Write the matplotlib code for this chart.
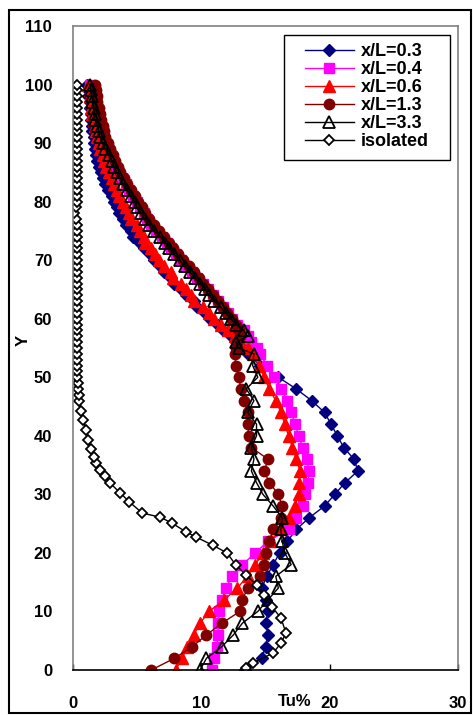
import matplotlib
matplotlib.use("Agg")
import matplotlib.pyplot as plt

plt.rcParams['font.family'] = ['Liberation Sans', 'DejaVu Sans']
plt.rcParams['font.weight'] = 'bold'

# Height positions (Y) shared by the five downstream profiles
y_prof = [0, 2, 4, 6, 8, 10, 12, 14, 16, 18, 20, 22, 24, 26, 28, 30, 32, 34, 36, 38,
          40, 42, 44, 46, 48, 50, 52, 54,
          55, 56, 57, 58, 59, 60, 61, 62, 63, 64, 65, 66, 67, 68, 69, 70, 71, 72, 73, 74,
          75, 76, 77, 78, 79, 80, 81, 82, 83, 84, 85, 86, 87, 88, 89, 90, 91, 92, 93, 94,
          95, 96, 97, 98, 99, 100]

tu_03 = [13.4, 14.7, 15.0, 15.2, 15.0, 15.2, 15.0, 14.7, 15.1, 15.6, 16.1, 16.7, 17.4, 18.4,
         19.6, 20.4, 21.2, 22.2, 21.9, 21.1, 20.6, 20.1, 19.6, 18.6, 17.4, 16.0, 14.6, 13.6,
         13.1, 12.7, 12.3, 11.7, 11.3, 10.7, 10.3, 9.7, 9.4, 8.8, 8.4, 7.9, 7.6, 7.1, 6.8, 6.3,
         6.0, 5.5, 5.2, 4.7, 4.5, 4.1, 3.9, 3.6, 3.4, 3.2, 3.0, 2.7, 2.5, 2.3, 2.2, 2.0, 1.9,
         1.8, 1.7, 1.6, 1.6, 1.5, 1.5, 1.4, 1.4, 1.3, 1.3, 1.2, 1.2, 1.1]

tu_04 = [10.8, 11.0, 11.2, 11.3, 11.3, 11.4, 11.6, 11.9, 12.4, 13.2, 14.2, 15.2, 16.8, 17.4,
         17.9, 18.1, 18.3, 18.4, 18.2, 17.9, 17.6, 17.3, 17.0, 16.7, 16.2, 15.7, 15.1, 14.6,
         14.3, 13.9, 13.6, 13.3, 12.8, 12.4, 12.1, 11.7, 11.3, 10.9, 10.5, 10.1, 9.7, 9.3, 8.8,
         8.4, 8.0, 7.6, 7.3, 6.9, 6.5, 6.1, 5.8, 5.5, 5.2, 5.0, 4.7, 4.4, 4.1, 3.8, 3.5, 3.3,
         3.1, 2.9, 2.7, 2.5, 2.3, 2.1, 2.0, 1.9, 1.8, 1.7, 1.6, 1.5, 1.4, 1.3]

tu_06 = [8.0, 8.5, 8.9, 9.4, 9.9, 10.6, 11.8, 12.8, 13.6, 14.2, 14.8, 15.4, 16.2, 16.8,
         17.3, 17.6, 17.6, 17.7, 17.4, 17.1, 16.8, 16.5, 16.2, 15.8, 15.3, 14.9, 14.5, 14.0,
         13.6, 13.1, 12.6, 12.1, 11.5, 11.0, 10.6, 10.1, 9.4, 9.2, 8.8, 8.4, 7.8, 7.6, 7.1,
         6.7, 6.4, 6.1, 5.6, 5.5, 5.2, 5.0, 4.5, 4.4, 4.1, 3.9, 3.6, 3.4, 3.2, 3.0, 2.8, 2.6,
         2.4, 2.3, 2.1, 2.0, 1.9, 1.8, 1.7, 1.6, 1.5, 1.4, 1.4, 1.3, 1.3, 1.2]

tu_13 = [6.1, 7.9, 9.3, 10.4, 11.6, 13.0, 13.2, 13.6, 14.6, 14.9, 15.0, 15.3, 15.6, 16.2,
         16.3, 16.0, 15.3, 14.9, 15.2, 13.9, 13.7, 13.6, 13.6, 13.3, 13.1, 12.9, 12.7, 12.6,
         12.7, 12.8, 13.0, 12.9, 12.7, 12.4, 12.0, 11.7, 11.3, 10.9, 10.5, 10.1, 9.8, 9.4, 9.0,
         8.6, 8.2, 7.8, 7.5, 7.1, 6.7, 6.3, 5.9, 5.6, 5.4, 5.1, 4.8, 4.5, 4.2, 4.0, 3.7, 3.5,
         3.3, 3.1, 2.9, 2.7, 2.5, 2.4, 2.3, 2.2, 2.1, 2.0, 1.9, 1.9, 1.8, 1.7]

tu_33 = [9.9, 10.4, 11.6, 12.5, 13.2, 14.4, 15.2, 16.0, 15.8, 17.0, 16.5, 16.3, 16.2, 16.3,
         15.6, 14.8, 14.3, 13.9, 14.1, 13.9, 14.3, 14.3, 13.6, 14.1, 13.5, 14.4, 14.0, 14.1,
         12.9, 12.7, 13.6, 13.3, 12.7, 12.3, 11.9, 11.5, 11.0, 10.6, 10.3, 9.9, 9.5, 9.1, 8.7,
         8.3, 7.9, 7.5, 7.2, 6.8, 6.3, 5.9, 5.6, 5.3, 5.0, 4.8, 4.5, 4.2, 3.9, 3.7, 3.4, 3.2,
         3.0, 2.8, 2.5, 2.3, 2.1, 2.0, 1.9, 1.7, 1.7, 1.6, 1.5, 1.5, 1.4, 1.3]

# Isolated profile (no upstream body)
y_iso = [0.3, 1.2, 2.9, 4.6, 6.3, 8.9, 10.8, 12.8, 14.5, 16.2, 17.9, 20.0, 21.3, 22.7, 23.6, 25.1,
         26.1, 26.8, 28.7, 30.2, 31.9, 33.2, 34.2, 35.3, 36.4, 37.8, 39.3, 41.0, 42.7, 44.3, 46.0,
         47, 48, 49, 50, 51, 52, 53, 54, 55, 56, 57, 58, 59, 60, 61, 62, 63, 64, 65, 66, 67, 68,
         69, 70, 71, 72, 73, 74, 75, 76, 77, 78, 79, 80, 81, 82, 83, 84, 85, 86, 87, 88, 89, 90,
         91, 92, 93, 94, 95, 96, 97, 98, 99, 100]
tu_iso = [13.5, 14.0, 15.6, 16.2, 16.6, 16.2, 15.5, 14.9, 14.3, 13.5, 12.7, 12.0, 10.9, 9.6, 8.8, 7.7,
          6.8, 5.4, 4.4, 3.7, 2.9, 2.5, 2.1, 1.8, 1.6, 1.4, 1.2, 1.0, 0.8, 0.6, 0.5,
          0.45, 0.4, 0.4, 0.35, 0.35, 0.3, 0.35, 0.3, 0.3, 0.35, 0.3, 0.3, 0.35, 0.3, 0.3, 0.3, 0.35,
          0.3, 0.3, 0.3, 0.35, 0.3, 0.3, 0.3, 0.3, 0.35, 0.3, 0.3, 0.3, 0.3, 0.2, 0.1, 0.25, 0.3,
          0.3, 0.3, 0.3, 0.3, 0.3, 0.3, 0.3, 0.3, 0.3, 0.3, 0.3, 0.3, 0.3, 0.3, 0.3, 0.3, 0.3,
          0.3, 0.3, 0.3]

labels = ['x/L=0.3', 'x/L=0.4', 'x/L=0.6', 'x/L=1.3', 'x/L=3.3', 'isolated']

W, H = 473, 715
fig = plt.figure(figsize=(W / 100, H / 100), dpi=100)

# chart frame
fig.patches.append(plt.Rectangle((9 / W, 2 / H), 462 / W, 703 / H, transform=fig.transFigure,
                                  fill=False, edgecolor='black', linewidth=1.5))

ax = fig.add_axes([73 / W, (H - 670) / H, (458 - 73) / W, (670 - 26) / H])

ax.plot(tu_03, y_prof, color='#000080', lw=1, marker='D', ms=6.3, mfc='#000080', mec='#000080',
        label=labels[0])
ax.plot(tu_04, y_prof, color='#FF00FF', lw=1, marker='s', ms=7, mfc='#FF00FF', mec='#FF00FF',
        label=labels[1])
ax.plot(tu_06, y_prof, color='#FF0000', lw=1, marker='^', ms=9, mfc='#FF0000', mec='#FF0000',
        label=labels[2])
ax.plot(tu_13, y_prof, color='#800000', lw=1, marker='o', ms=7.5, mfc='#800000', mec='#800000',
        label=labels[3])
ax.plot(tu_33, y_prof, color='black', lw=1, marker='^', ms=9, mfc='none', mec='black', mew=1.3,
        label=labels[4])
ax.plot(tu_iso, y_iso, color='black', lw=1, marker='D', ms=5.5, mfc='white', mec='black', mew=1.3,
        label=labels[5])

ax.set_xlim(0, 30)
ax.set_ylim(0, 110)
ax.set_xticks([0, 10, 20, 30])
ax.set_yticks([0, 10, 20, 30, 40, 50, 60, 70, 80, 90, 100, 110])

for s in ('left', 'top', 'right'):
    ax.spines[s].set_color('#808080')
    ax.spines[s].set_linewidth(1.2)
ax.spines['bottom'].set_color('black')
ax.spines['bottom'].set_linewidth(1.2)

ax.tick_params(axis='x', direction='in', length=4, width=1, pad=19, labelsize=12)
ax.tick_params(axis='y', length=0, pad=15, labelsize=12)
for t in ax.get_xticklabels() + ax.get_yticklabels():
    t.set_fontweight('bold')

fig.text(295 / W, 1 - 702 / H, 'Tu%', ha='center', va='center', fontsize=12, fontweight='bold')
fig.text(23 / W, 1 - 340 / H, 'Y', ha='center', va='center', rotation=90, fontsize=12,
         fontweight='bold')

# legend box
box = plt.Rectangle((284 / W, 1 - 160 / H), 166 / W, 125 / H, transform=fig.transFigure,
                    facecolor='white', edgecolor='black', linewidth=1.0, zorder=4, clip_on=False)
ax.add_patch(box)
leg = ax.legend(loc='upper left', bbox_to_anchor=(305 / W, 1 - 43 / H),
                bbox_transform=fig.transFigure, borderaxespad=0, borderpad=0, frameon=False,
                handlelength=2.7, handletextpad=0.4, labelspacing=0.06,
                prop={'size': 13, 'weight': 'bold'})
leg.set_zorder(5)

fig.savefig('out.png', dpi=100)
